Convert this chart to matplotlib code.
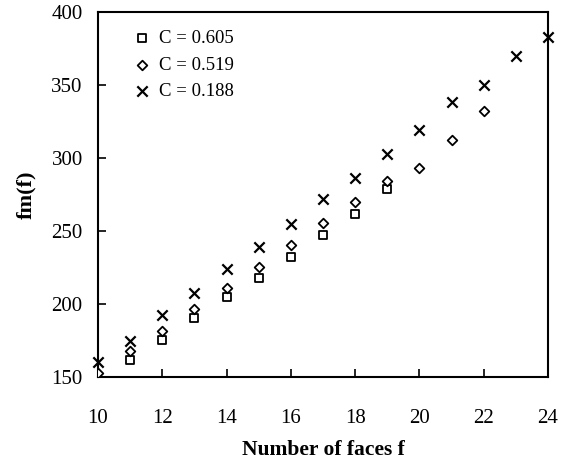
import numpy as np
from matplotlib import pyplot as plt

plt.rcParams['font.family'] = ['Liberation Serif', 'DejaVu Serif']

# C = 0.605 (squares)
f_sq = [11, 12, 13, 14, 15, 16, 17, 18, 19]
fm_sq = [161.8, 175.5, 190.2, 204.4, 217.7, 232.1, 247.5, 261.2, 278.6]

# C = 0.519 (diamonds)
f_di = [10, 11, 12, 13, 14, 15, 16, 17, 18, 19, 20, 21, 22]
fm_di = [153.0, 167.5, 181.6, 196.4, 211.2, 225.5, 240.0, 255.7, 269.6, 284.0, 293.0, 312.1, 332.3]

# C = 0.188 (crosses)
f_x = [10, 11, 12, 13, 14, 15, 16, 17, 18, 19, 20, 21, 22, 23, 24]
fm_x = [160.2, 174.8, 192.3, 207.8, 223.7, 238.9, 254.4, 271.8, 286.0, 302.8, 318.7, 338.5, 349.9, 369.4, 382.5]

x_ticks = [10, 12, 14, 16, 18, 20, 22, 24]
y_ticks = [150, 200, 250, 300, 350, 400]

fig = plt.figure(figsize=(5.71, 4.66), dpi=100)
ax = fig.add_axes([0.1716, 0.191, 0.788, 0.784])

ax.scatter(f_sq, fm_sq, marker='s', s=32, facecolors='white', edgecolors='black',
           linewidths=1.3, label='C = 0.605', zorder=3)
ax.scatter(f_di, fm_di, marker='D', s=24, facecolors='white', edgecolors='black',
           linewidths=1.3, label='C = 0.519', zorder=3)
ax.scatter(f_x, fm_x, marker='x', s=55, color='black', linewidths=1.6,
           label='C = 0.188', zorder=4, clip_on=False)

ax.set_xlim(10, 24)
ax.set_ylim(150, 400)
ax.set_xticks(x_ticks)
ax.set_yticks(y_ticks)
ax.tick_params(direction='in', length=6, width=1.2, labelsize=15)
ax.tick_params(axis='y', pad=11)
ax.tick_params(axis='x', pad=23)
for sp in ax.spines.values():
    sp.set_linewidth(1.5)

ax.set_xlabel('Number of faces f', fontsize=15.5, fontweight='bold', labelpad=9)
ax.set_ylabel('fm(f)', fontsize=16, fontweight='bold', labelpad=11)

ax.legend(loc='upper left', frameon=False, fontsize=13.5, handlelength=1.0,
          handletextpad=0.41, labelspacing=0.5, borderaxespad=0, borderpad=0,
          bbox_to_anchor=(0.077, 0.949))

fig.savefig('out.png', dpi=100)
